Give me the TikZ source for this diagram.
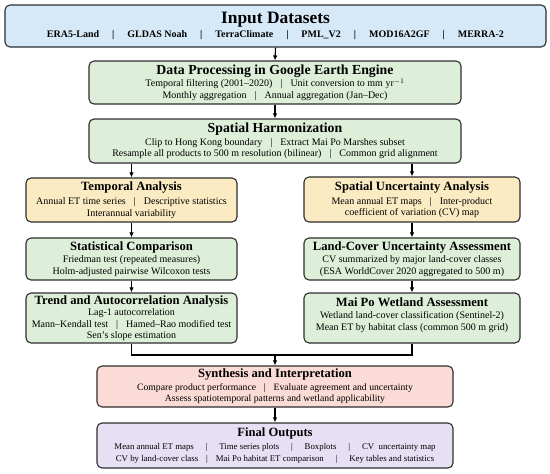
\documentclass[tikz,border=0pt]{standalone}
\usepackage{fontspec}
\setmainfont{Liberation Serif}
\usetikzlibrary{arrows.meta}
\definecolor{cBlue}{HTML}{D6E9F8}
\definecolor{cGreen}{HTML}{DDEFD8}
\definecolor{cYellow}{HTML}{FBEBC2}
\definecolor{cPink}{HTML}{FADBD5}
\definecolor{cLav}{HTML}{E7E0F5}
\definecolor{cEdge}{HTML}{2E2E2E}
\newcommand{\sep}{\hspace{0.8em}|\hspace{0.8em}}
\newcommand{\bsep}{\hspace{1.3em}|\hspace{1.3em}}
\newcommand{\fsep}{\hspace{1.35em}|\hspace{1.35em}}
\newcommand{\bigttl}[1]{{\fontsize{13.8}{15}\selectfont\bfseries #1}}
\newcommand{\smttl}[1]{{\fontsize{12.6}{14}\selectfont\bfseries #1}}
\tikzset{
  box/.style={draw=cEdge, line width=1.1pt, rounded corners=5pt, align=center,
    inner sep=1pt, font=\fontsize{10}{11.5}\selectfont},
  bluebox/.style={box, fill=cBlue},
  greenbox/.style={box, fill=cGreen},
  yellowbox/.style={box, fill=cYellow},
  pinkbox/.style={box, fill=cPink},
  lavbox/.style={box, fill=cLav},
  arr/.style={draw=black, line width=1.1pt, -{Latex[length=5pt,width=4.5pt]}},
  link/.style={draw=black, line width=1.1pt}
}
\begin{document}
\begin{tikzpicture}[x=1pt,y=-1pt]
\useasboundingbox (0,0) rectangle (550,474);
\fill[white] (0,0) rectangle (550,474);

\node[bluebox, minimum width=541pt, minimum height=42pt] (inp) at (275.5,26)
  {{\fontsize{17.4}{19}\selectfont\bfseries Input Datasets}\\[3pt]
   {\bfseries ERA5-Land\bsep GLDAS Noah\bsep TerraClimate\bsep PML\_V2\bsep MOD16A2GF\bsep MERRA-2}};

\node[greenbox, minimum width=372pt, minimum height=43pt] (proc) at (275,82.5)
  {\bigttl{Data Processing in Google Earth Engine}\\[1pt]
   Temporal filtering (2001--2020)\sep Unit conversion to mm yr$^{-1}$\\
   Monthly aggregation\sep Annual aggregation (Jan--Dec)};

\node[greenbox, minimum width=372pt, minimum height=44pt] (harm) at (275,141)
  {\bigttl{Spatial Harmonization}\\[1pt]
   Clip to Hong Kong boundary\sep Extract Mai Po Marshes subset\\
   Resample all products to 500 m resolution (bilinear)\sep Common grid alignment};

\node[yellowbox, minimum width=211pt, minimum height=44pt] (temp) at (131.5,200)
  {\smttl{Temporal Analysis}\\[2.5pt]
   Annual ET time series\sep Descriptive statistics\\
   Interannual variability};

\node[yellowbox, minimum width=216pt, minimum height=45pt] (spat) at (412,199.5)
  {\smttl{Spatial Uncertainty Analysis}\\[2.5pt]
   Mean annual ET maps\sep Inter-product\\
   coefficient of variation (CV) map};

\node[greenbox, minimum width=211pt, minimum height=42pt] (stat) at (131.5,259)
  {\smttl{Statistical Comparison}\\[1pt]
   Friedman test (repeated measures)\\
   Holm-adjusted pairwise Wilcoxon tests};

\node[greenbox, minimum width=216pt, minimum height=42pt] (land) at (412,259)
  {\smttl{Land-Cover Uncertainty Assessment}\\[1pt]
   CV summarized by major land-cover classes\\
   (ESA WorldCover 2020 aggregated to 500 m)};

\node[greenbox, minimum width=211pt, minimum height=50pt] (trend) at (131.5,318)
  {\smttl{Trend and Autocorrelation Analysis}\\
   Lag-1 autocorrelation\\
   Mann--Kendall test\sep Hamed--Rao modified test\\
   Sen’s slope estimation};

\node[greenbox, minimum width=216pt, minimum height=50pt] (maipo) at (412,318)
  {\smttl{Mai Po Wetland Assessment}\\[1pt]
   Wetland land-cover classification (Sentinel-2)\\
   Mean ET by habitat class (common 500 m grid)\\[-3pt]\mbox{}};

\node[pinkbox, minimum width=356pt, minimum height=41pt] (synth) at (275,386.5)
  {\smttl{Synthesis and Interpretation}\\[1pt]
   {\fontsize{9.7}{11.2}\selectfont Compare product performance\sep Evaluate agreement and uncertainty}\\
   {\fontsize{9.7}{11.2}\selectfont Assess spatiotemporal patterns and wetland applicability}};

\node[lavbox, minimum width=356pt, minimum height=45pt] (final) at (275,445.5)
  {\smttl{Final Outputs}\\[1.5pt]
   {\fontsize{8.8}{10.5}\selectfont Mean annual ET maps\fsep Time series plots\fsep Boxplots\fsep CV\ \ uncertainty map}\\
   {\fontsize{8.8}{10.5}\selectfont CV by land-cover class\hspace{0.9em}|\hspace{0.9em}Mai Po habitat ET comparison\fsep Key tables and statistics}};

\coordinate (j) at (275,355);

\draw[arr] (inp.south) -- (proc.north);
\draw[arr] (proc.south) -- (harm.north);
\draw[arr] (harm.south -| temp.north) -- (temp.north);
\draw[arr] (harm.south -| spat.north) -- (spat.north);
\draw[arr] (temp.south) -- (stat.north);
\draw[arr] (stat.south) -- (trend.north);
\draw[arr] (spat.south) -- (land.north);
\draw[arr] (land.south) -- (maipo.north);
\draw[link] (trend.south) |- (j);
\draw[link] (maipo.south) |- (j);
\draw[arr] (j) -- (synth.north);
\draw[arr] (synth.south) -- (final.north);
\end{tikzpicture}
\end{document}
